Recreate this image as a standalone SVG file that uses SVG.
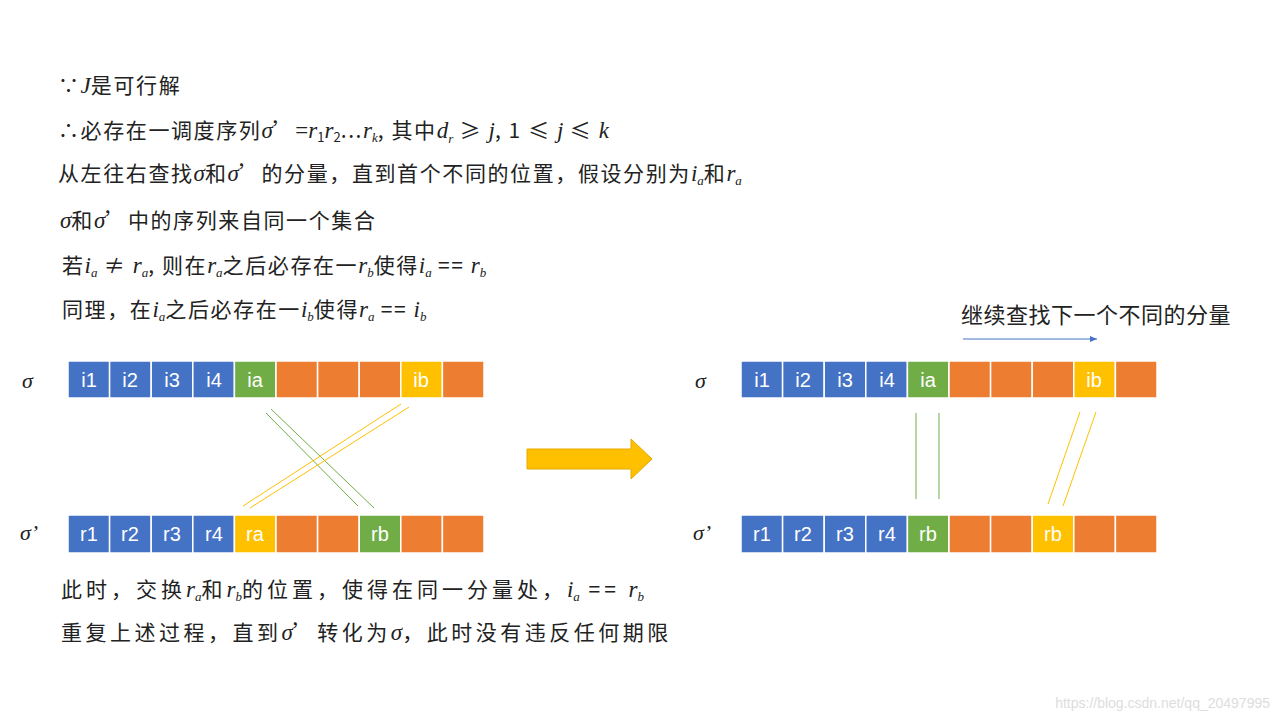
<svg xmlns="http://www.w3.org/2000/svg" width="1280" height="720" viewBox="0 0 1280 720">
<style>
.t{font-family:"Noto Sans CJK SC","Liberation Serif",serif;font-size:21px;letter-spacing:1.6px;fill:#222}
.m{font-family:"Liberation Serif",serif;font-style:italic;font-size:23px;letter-spacing:0}
.s{font-size:13px;letter-spacing:0}
.c{stroke:#fff;stroke-width:1.5}
.b{fill:#4472c4}.g{fill:#70ad47}.o{fill:#ed7d31}.y{fill:#ffc000}
.l{font-family:"Liberation Sans",sans-serif;font-size:20px;fill:#fff;text-anchor:middle}
.sg{font-family:"Liberation Serif",serif;font-style:italic;font-size:22px;fill:#222}
</style>
<defs>
<marker id="ah" markerWidth="8" markerHeight="8" refX="7" refY="4" orient="auto" markerUnits="userSpaceOnUse"><path d="M0,1 L7,4 L0,7 Z" fill="#4472c4"/></marker>
</defs>
<rect width="1280" height="720" fill="#fff"/>
<g id="text">
<text class="t" x="58" y="93">∵<tspan class="m">J</tspan>是可行解</text>
<text class="t" x="58" y="138">∴必存在一调度序列<tspan class="m">σ</tspan>’<tspan class="m" style="font-style:normal">=</tspan><tspan class="m">r</tspan><tspan class="s" dy="4">1</tspan><tspan class="m" dy="-4">r</tspan><tspan class="s" dy="4">2</tspan><tspan dy="-4">...</tspan><tspan class="m">r</tspan><tspan class="s m" dy="4">k</tspan><tspan dy="-4">, 其中</tspan><tspan class="m">d</tspan><tspan class="s m" dy="5">r</tspan><tspan dy="-5"> ≥ </tspan><tspan class="m">j</tspan>, 1 ≤ <tspan class="m">j</tspan> ≤ <tspan class="m">k</tspan></text>
<text class="t" x="58" y="181">从左往右查找<tspan class="m">σ</tspan>和<tspan class="m">σ</tspan>’的分量，直到首个不同的位置，假设分别为<tspan class="m">i</tspan><tspan class="s m" dy="4">a</tspan><tspan dy="-4">和</tspan><tspan class="m">r</tspan><tspan class="s m" dy="4">a</tspan></text>
<text class="t" x="60" y="228"><tspan class="m">σ</tspan>和<tspan class="m">σ</tspan>’中的序列来自同一个集合</text>
<text class="t" x="62" y="273">若<tspan class="m">i</tspan><tspan class="s m" dy="4">a</tspan><tspan dy="-4"> ≠ </tspan><tspan class="m">r</tspan><tspan class="s m" dy="4">a</tspan><tspan dy="-4">, 则在</tspan><tspan class="m">r</tspan><tspan class="s m" dy="4">a</tspan><tspan dy="-4">之后必存在一</tspan><tspan class="m">r</tspan><tspan class="s m" dy="4">b</tspan><tspan dy="-4">使得</tspan><tspan class="m">i</tspan><tspan class="s m" dy="4">a</tspan><tspan dy="-4"> == </tspan><tspan class="m">r</tspan><tspan class="s m" dy="4">b</tspan></text>
<text class="t" x="62" y="317">同理，在<tspan class="m">i</tspan><tspan class="s m" dy="4">a</tspan><tspan dy="-4">之后必存在一</tspan><tspan class="m">i</tspan><tspan class="s m" dy="4">b</tspan><tspan dy="-4">使得</tspan><tspan class="m">r</tspan><tspan class="s m" dy="4">a</tspan><tspan dy="-4"> == </tspan><tspan class="m">i</tspan><tspan class="s m" dy="4">b</tspan></text>
<text class="t" x="61" y="597" style="letter-spacing:4px">此时，交换<tspan class="m">r</tspan><tspan class="s m" dy="4">a</tspan><tspan dy="-4">和</tspan><tspan class="m">r</tspan><tspan class="s m" dy="4">b</tspan><tspan dy="-4">的位置，使得在同一分量处，</tspan><tspan class="m">i</tspan><tspan class="s m" dy="4">a</tspan><tspan dy="-4"> == </tspan><tspan class="m">r</tspan><tspan class="s m" dy="4">b</tspan></text>
<text class="t" x="61" y="640" style="letter-spacing:3.5px">重复上述过程，直到<tspan class="m">σ</tspan>’转化为<tspan class="m">σ</tspan>，此时没有违反任何期限</text>
<text class="t" x="961" y="323" style="font-size:22px;letter-spacing:0.5px">继续查找下一个不同的分量</text>
<text class="sg" x="22" y="388">σ</text>
<text class="sg" x="20" y="540">σ’</text>
<text class="sg" x="695" y="388">σ</text>
<text class="sg" x="693" y="540">σ’</text>
</g>
<g id="left-top">
<rect class="b c" x="68" y="361" width="41.6" height="37"/><rect class="b c" x="109.6" y="361" width="41.6" height="37"/><rect class="b c" x="151.2" y="361" width="41.6" height="37"/><rect class="b c" x="192.8" y="361" width="41.6" height="37"/><rect class="g c" x="234.4" y="361" width="41.6" height="37"/><rect class="o c" x="276" y="361" width="41.6" height="37"/><rect class="o c" x="317.6" y="361" width="41.6" height="37"/><rect class="o c" x="359.2" y="361" width="41.6" height="37"/><rect class="y c" x="400.8" y="361" width="41.6" height="37"/><rect class="o c" x="442.4" y="361" width="41.6" height="37"/>
<text class="l" x="89" y="387">i1</text><text class="l" x="130" y="387">i2</text><text class="l" x="172" y="387">i3</text><text class="l" x="214" y="387">i4</text><text class="l" x="255" y="387">ia</text><text class="l" x="421" y="387">ib</text>
</g>
<g id="left-bottom">
<rect class="b c" x="68" y="515" width="41.6" height="38"/><rect class="b c" x="109.6" y="515" width="41.6" height="38"/><rect class="b c" x="151.2" y="515" width="41.6" height="38"/><rect class="b c" x="192.8" y="515" width="41.6" height="38"/><rect class="y c" x="234.4" y="515" width="41.6" height="38"/><rect class="o c" x="276" y="515" width="41.6" height="38"/><rect class="o c" x="317.6" y="515" width="41.6" height="38"/><rect class="g c" x="359.2" y="515" width="41.6" height="38"/><rect class="o c" x="400.8" y="515" width="41.6" height="38"/><rect class="o c" x="442.4" y="515" width="41.6" height="38"/>
<text class="l" x="89" y="541">r1</text><text class="l" x="130" y="541">r2</text><text class="l" x="172" y="541">r3</text><text class="l" x="214" y="541">r4</text><text class="l" x="255" y="541">ra</text><text class="l" x="380" y="541">rb</text>
</g>
<g id="right-top">
<rect class="b c" x="741" y="361" width="41.6" height="37"/><rect class="b c" x="782.6" y="361" width="41.6" height="37"/><rect class="b c" x="824.2" y="361" width="41.6" height="37"/><rect class="b c" x="865.8" y="361" width="41.6" height="37"/><rect class="g c" x="907.4" y="361" width="41.6" height="37"/><rect class="o c" x="949" y="361" width="41.6" height="37"/><rect class="o c" x="990.6" y="361" width="41.6" height="37"/><rect class="o c" x="1032.2" y="361" width="41.6" height="37"/><rect class="y c" x="1073.8" y="361" width="41.6" height="37"/><rect class="o c" x="1115.4" y="361" width="41.6" height="37"/>
<text class="l" x="762" y="387">i1</text><text class="l" x="803" y="387">i2</text><text class="l" x="845" y="387">i3</text><text class="l" x="887" y="387">i4</text><text class="l" x="928" y="387">ia</text><text class="l" x="1094" y="387">ib</text>
</g>
<g id="right-bottom">
<rect class="b c" x="741" y="515" width="41.6" height="38"/><rect class="b c" x="782.6" y="515" width="41.6" height="38"/><rect class="b c" x="824.2" y="515" width="41.6" height="38"/><rect class="b c" x="865.8" y="515" width="41.6" height="38"/><rect class="g c" x="907.4" y="515" width="41.6" height="38"/><rect class="o c" x="949" y="515" width="41.6" height="38"/><rect class="o c" x="990.6" y="515" width="41.6" height="38"/><rect class="y c" x="1032.2" y="515" width="41.6" height="38"/><rect class="o c" x="1073.8" y="515" width="41.6" height="38"/><rect class="o c" x="1115.4" y="515" width="41.6" height="38"/>
<text class="l" x="762" y="541">r1</text><text class="l" x="803" y="541">r2</text><text class="l" x="845" y="541">r3</text><text class="l" x="887" y="541">r4</text><text class="l" x="928" y="541">rb</text><text class="l" x="1053" y="541">rb</text>
</g>
<g id="connectors" fill="none" stroke-width="1">
<line x1="266" y1="413" x2="358" y2="506" stroke="#70ad47"/>
<line x1="271" y1="409" x2="374" y2="508" stroke="#70ad47"/>
<line x1="401" y1="404" x2="243" y2="506" stroke="#ffc000"/>
<line x1="409" y1="407" x2="250" y2="508" stroke="#ffc000"/>
<line x1="916" y1="413" x2="916" y2="499" stroke="#70ad47"/>
<line x1="939" y1="413" x2="939" y2="499" stroke="#70ad47"/>
<line x1="1080" y1="412" x2="1048" y2="504" stroke="#ffc000"/>
<line x1="1096" y1="412" x2="1063" y2="506" stroke="#ffc000"/>
<path d="M527,449 H631 V439 L652,459 L631,479 V469 H527 Z" fill="#ffc000" stroke="#e6a800"/>
<line x1="963" y1="339" x2="1097" y2="339" stroke="#4472c4" marker-end="url(#ah)"/>
</g>
<text x="1270" y="708" text-anchor="end" style="font-family:'Liberation Sans',sans-serif;font-size:14px;fill:#ddd">https://blog.csdn.net/qq_20497995</text>
</svg>
